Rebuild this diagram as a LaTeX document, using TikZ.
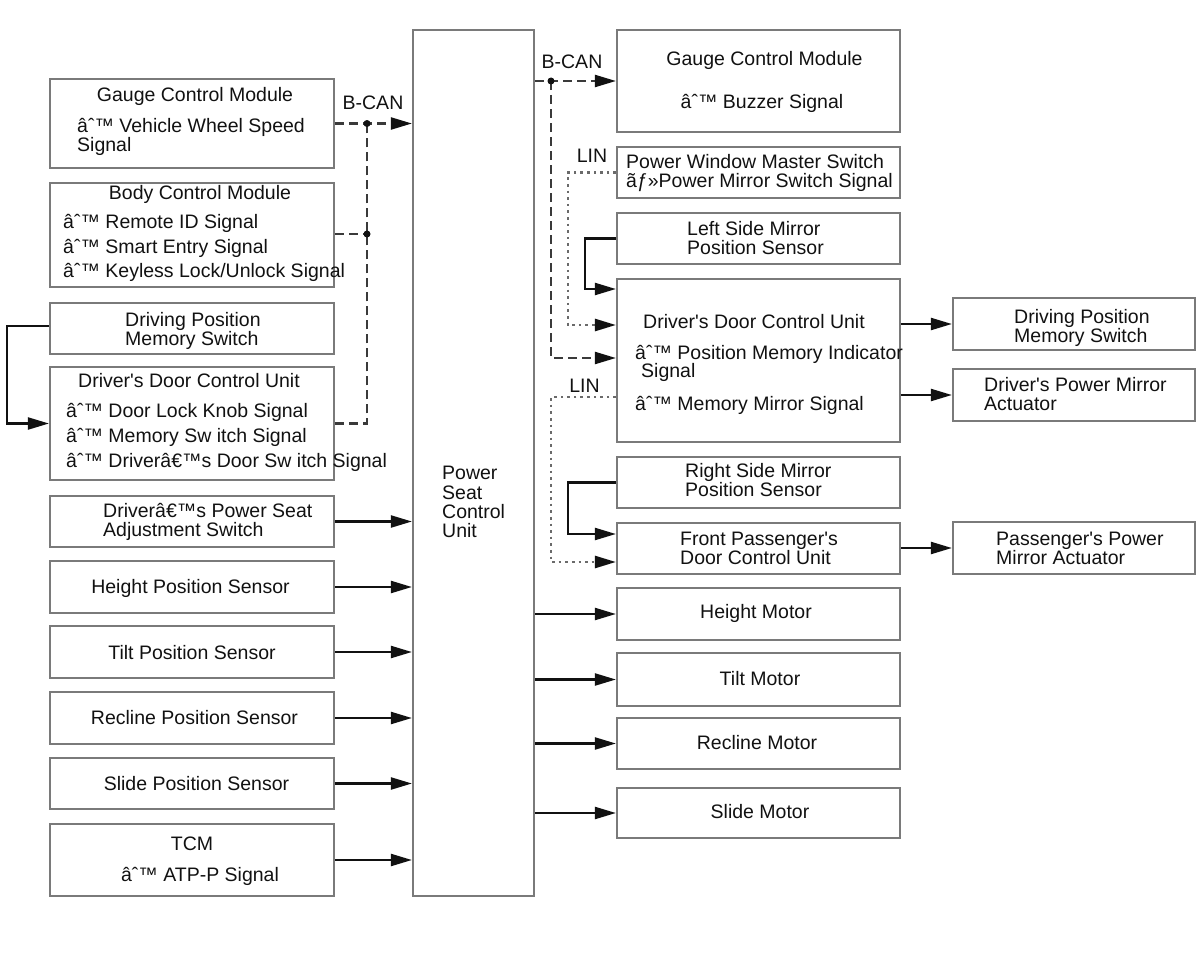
\documentclass[tikz,border=0pt]{standalone}
\usepackage{fontspec}
\setmainfont{Liberation Sans}
\usetikzlibrary{arrows.meta}
\definecolor{boxgray}{HTML}{7A7A7A}
\definecolor{ink}{HTML}{111111}
\definecolor{dashc}{HTML}{3A3A3A}
\definecolor{dotc}{HTML}{6A6A6A}
\newcommand\fs{\fontsize{19.5}{20}\selectfont}
\newcommand\bul{âˆ™}
\newcommand\apq{\textquotesingle}
\begin{document}
\begin{tikzpicture}[x=1pt,y=-1pt,
  box/.style={draw=boxgray, line width=2.2pt, inner sep=0pt},
  lt/.style={inner sep=0pt, anchor=base west, font=\fs, text=ink},
  ct/.style={inner sep=0pt, anchor=base, font=\fs, text=ink},
  tipa/.style={-{Triangle[length=21pt,width=12pt,color=ink]}},
  conn/.style={draw=ink, line width=2.2pt},
  can/.style={draw=dashc, line width=2.2pt, dash pattern=on 9pt off 5pt},
  lin/.style={draw=dotc, line width=2.6pt, dash pattern=on 2.6pt off 4pt},
  jdot/.style={circle, fill=ink, inner sep=0pt, minimum size=7pt}
]
\useasboundingbox (0,0) rectangle (1200,966);

% ---------- central unit
\node[box, minimum width=121pt, minimum height=866pt] (pscu) at (473.5,463) {};
\node[lt] (p1) at (442,479) {Power};
\node[lt] (p2) at (442,499) {Seat};
\node[lt] (p3) at (442,518) {Control};
\node[lt] (p4) at (442,537) {Unit};

% ---------- left column
\node[box, minimum width=284pt, minimum height=89pt] (lgcm) at (192,123.5) {};
\node[box, minimum width=284pt, minimum height=104pt] (lbcm) at (192,235) {};
\node[box, minimum width=284pt, minimum height=51pt] (ldpms) at (192,328.5) {};
\node[box, minimum width=284pt, minimum height=113pt] (lddcu) at (192,423.5) {};
\node[box, minimum width=284pt, minimum height=51pt] (lpsas) at (192,521.5) {};
\node[box, minimum width=284pt, minimum height=52pt] (lhps) at (192,587) {};
\node[box, minimum width=284pt, minimum height=52pt] (ltps) at (192,652) {};
\node[box, minimum width=284pt, minimum height=52pt] (lrps) at (192,718) {};
\node[box, minimum width=284pt, minimum height=51pt] (lsps) at (192,783.5) {};
\node[box, minimum width=284pt, minimum height=72pt] (ltcm) at (192,860) {};

\node[ct] (a1) at (195,102) {Gauge Control Module};
\node[lt] (a2) at (77,132) {\bul\ Vehicle Wheel Speed};
\node[lt] (a3) at (77,151) {Signal};
\node[ct] (b1) at (200,199) {Body Control Module};
\node[lt] (b2) at (63,228) {\bul\ Remote ID Signal};
\node[lt] (b3) at (63,253) {\bul\ Smart Entry Signal};
\node[lt] (b4) at (63,277) {\bul\ Keyless Lock/Unlock Signal};
\node[lt] (c1) at (125,326) {Driving Position};
\node[lt] (c2) at (125,345) {Memory Switch};
\node[ct] (d1) at (189,387) {Driver\apq s Door Control Unit};
\node[lt] (d2) at (66,417) {\bul\ Door Lock Knob Signal};
\node[lt] (d3) at (66,442) {\bul\ Memory Sw itch Signal};
\node[lt] (d4) at (66,467) {\bul\ Driverâ€™s Door Sw itch Signal};
\node[lt] (e1) at (103,517) {Driverâ€™s Power Seat};
\node[lt] (e2) at (103,536) {Adjustment Switch};
\node[ct] (f1) at (190.5,593) {Height Position Sensor};
\node[ct] (g1) at (192,659) {Tilt Position Sensor};
\node[ct] (h1) at (194.5,724) {Recline Position Sensor};
\node[ct] (i1) at (196.5,790) {Slide Position Sensor};
\node[ct] (k1) at (192,850) {TCM};
\node[ct] (k2) at (200,881) {\bul\ ATP-P Signal};
\node[ct] (bcl) at (373,110) {B-CAN};

% ---------- right column
\node[box, minimum width=283pt, minimum height=102pt] (rgcm) at (758.5,81) {};
\node[box, minimum width=283pt, minimum height=51pt] (rpwms) at (758.5,172.5) {};
\node[box, minimum width=283pt, minimum height=51pt] (rlsm) at (758.5,238.5) {};
\node[box, minimum width=283pt, minimum height=163pt] (rddcu) at (758.5,360.5) {};
\node[box, minimum width=283pt, minimum height=51pt] (rrsm) at (758.5,482.5) {};
\node[box, minimum width=283pt, minimum height=51pt] (rfpd) at (758.5,548.5) {};
\node[box, minimum width=283pt, minimum height=52pt] (rhm) at (758.5,614) {};
\node[box, minimum width=283pt, minimum height=53pt] (rtm) at (758.5,679.5) {};
\node[box, minimum width=283pt, minimum height=51pt] (rrm) at (758.5,743.5) {};
\node[box, minimum width=283pt, minimum height=50pt] (rsm) at (758.5,813) {};

\node[box, minimum width=242pt, minimum height=52pt] (fdpms) at (1074,324) {};
\node[box, minimum width=242pt, minimum height=52pt] (fdpma) at (1074,395) {};
\node[box, minimum width=242pt, minimum height=52pt] (fppma) at (1074,548) {};

\node[ct] (m1) at (764.5,66) {Gauge Control Module};
\node[ct] (m2) at (762,109) {\bul\ Buzzer Signal};
\node[lt] (n1) at (626,168) {Power Window Master Switch};
\node[lt] (n2) at (626,187) {ãƒ»Power Mirror Switch Signal};
\node[lt] (o1) at (687,235) {Left Side Mirror};
\node[lt] (o2) at (687,254) {Position Sensor};
\node[lt] (q1) at (643,328) {Driver\apq s Door Control Unit};
\node[lt] (q2) at (635,359) {\bul\ Position Memory Indicator};
\node[lt] (q3) at (641,377) {Signal};
\node[lt] (q4) at (635,410) {\bul\ Memory Mirror Signal};
\node[lt] (r1) at (685,477) {Right Side Mirror};
\node[lt] (r2) at (685,496) {Position Sensor};
\node[lt] (s1) at (680,545) {Front Passenger\apq s};
\node[lt] (s2) at (680,564) {Door Control Unit};
\node[ct] (u1) at (756,618) {Height Motor};
\node[ct] (u2) at (760,685) {Tilt Motor};
\node[ct] (u3) at (757,749) {Recline Motor};
\node[ct] (u4) at (760,818) {Slide Motor};
\node[lt] (v1) at (1014,323) {Driving Position};
\node[lt] (v2) at (1014,342) {Memory Switch};
\node[lt] (w1) at (984,391) {Driver\apq s Power Mirror};
\node[lt] (w2) at (984,410) {Actuator};
\node[lt] (x1) at (996,545) {Passenger\apq s Power};
\node[lt] (x2) at (996,564) {Mirror Actuator};
\node[ct] (bcr) at (572,69) {B-CAN};
\node[ct] (lin1) at (592,162) {LIN};
\node[ct] (lin2) at (584.5,392) {LIN};

% ---------- left connectors
\coordinate (jl) at (367,123.5);
\draw[can,tipa] (lgcm.east) -- (lgcm.east -| pscu.west);
\draw[can] (lbcm.east |- 0,234) -- (jl |- 0,234);
\draw[can] (lddcu.east) -| (jl);
\node[jdot] (jl1) at (jl) {};
\node[jdot] (jl2) at (jl |- 0,234) {};
\draw[conn,tipa] (ldpms.west |- 0,326) -- (7,326) |- (lddcu.west);
\draw[conn,tipa] (lpsas.east) -- (lpsas.east -| pscu.west);
\draw[conn,tipa] (lhps.east) -- (lhps.east -| pscu.west);
\draw[conn,tipa] (ltps.east) -- (ltps.east -| pscu.west);
\draw[conn,tipa] (lrps.east) -- (lrps.east -| pscu.west);
\draw[conn,tipa] (lsps.east) -- (lsps.east -| pscu.west);
\draw[conn,tipa] (ltcm.east) -- (ltcm.east -| pscu.west);

% ---------- right connectors
\coordinate (jr) at (551,81);
\draw[can,tipa] (pscu.east |- rgcm.west) -- (rgcm.west);
\draw[can,tipa] (jr) |- (rddcu.west |- 0,358);
\node[jdot] (jr1) at (jr) {};
\draw[lin,tipa] (rpwms.west) -| (568,325) -- (rddcu.west |- 0,325);
\draw[conn,tipa] (rlsm.west) -| (585,289) -- (rddcu.west |- 0,289);
\draw[lin,tipa] (rddcu.west |- 0,397) -| (551,562) -- (rfpd.west |- 0,562);
\draw[conn,tipa] (rrsm.west) -| (568,534) -- (rfpd.west |- 0,534);
\draw[conn,tipa] (rddcu.east |- fdpms.west) -- (fdpms.west);
\draw[conn,tipa] (rddcu.east |- fdpma.west) -- (fdpma.west);
\draw[conn,tipa] (rfpd.east |- fppma.west) -- (fppma.west);
\draw[conn,tipa] (pscu.east |- rhm.west) -- (rhm.west);
\draw[conn,tipa] (pscu.east |- rtm.west) -- (rtm.west);
\draw[conn,tipa] (pscu.east |- rrm.west) -- (rrm.west);
\draw[conn,tipa] (pscu.east |- rsm.west) -- (rsm.west);
\end{tikzpicture}
\end{document}
